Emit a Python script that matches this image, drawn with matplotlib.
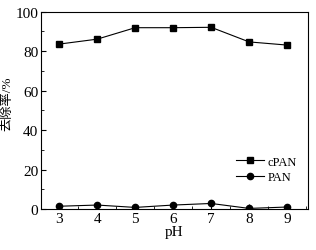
import matplotlib
matplotlib.use('Agg')
import matplotlib.pyplot as plt
from matplotlib.ticker import MultipleLocator

plt.rcParams['font.family'] = ['Liberation Serif', 'Noto Sans CJK SC']

ph = [3, 4, 5, 6, 7, 8, 9]
cpan = [83.5, 86.0, 91.8, 91.8, 92.0, 84.6, 83.0]
pan = [1.4, 2.0, 0.8, 2.0, 2.8, 0.3, 1.0]

fig = plt.figure(figsize=(3.16, 2.51), dpi=100)
ax = fig.add_axes([41/316, 1 - 210/251, 267/316, 197.5/251])

ax.plot(ph, cpan, '-s', color='black', lw=0.8, ms=4, label='cPAN')
ax.plot(ph, pan, '-o', color='black', lw=0.8, ms=4.5, label='PAN')

ax.set_xlim(2.52, 9.55)
ax.set_ylim(0, 100)
ax.xaxis.set_major_locator(MultipleLocator(1))
ax.xaxis.set_minor_locator(MultipleLocator(0.5))
ax.yaxis.set_major_locator(MultipleLocator(20))
ax.yaxis.set_minor_locator(MultipleLocator(10))
ax.tick_params(which='both', direction='in', labelsize=11, pad=2)
ax.tick_params(which='major', length=3.5)
ax.tick_params(which='minor', length=2)
for s in ax.spines.values():
    s.set_linewidth(0.8)

ax.set_xlabel('pH', fontsize=11, labelpad=0)
ax.set_ylabel('去除率/%', fontsize=9.5)
ax.yaxis.set_label_coords(-0.105, 0.54)

ax.legend(loc='center right', bbox_to_anchor=(1.0, 0.2), frameon=False,
          fontsize=9, handlelength=2.2, handletextpad=0.3, labelspacing=0.3)

fig.savefig('out.png', dpi=100)
